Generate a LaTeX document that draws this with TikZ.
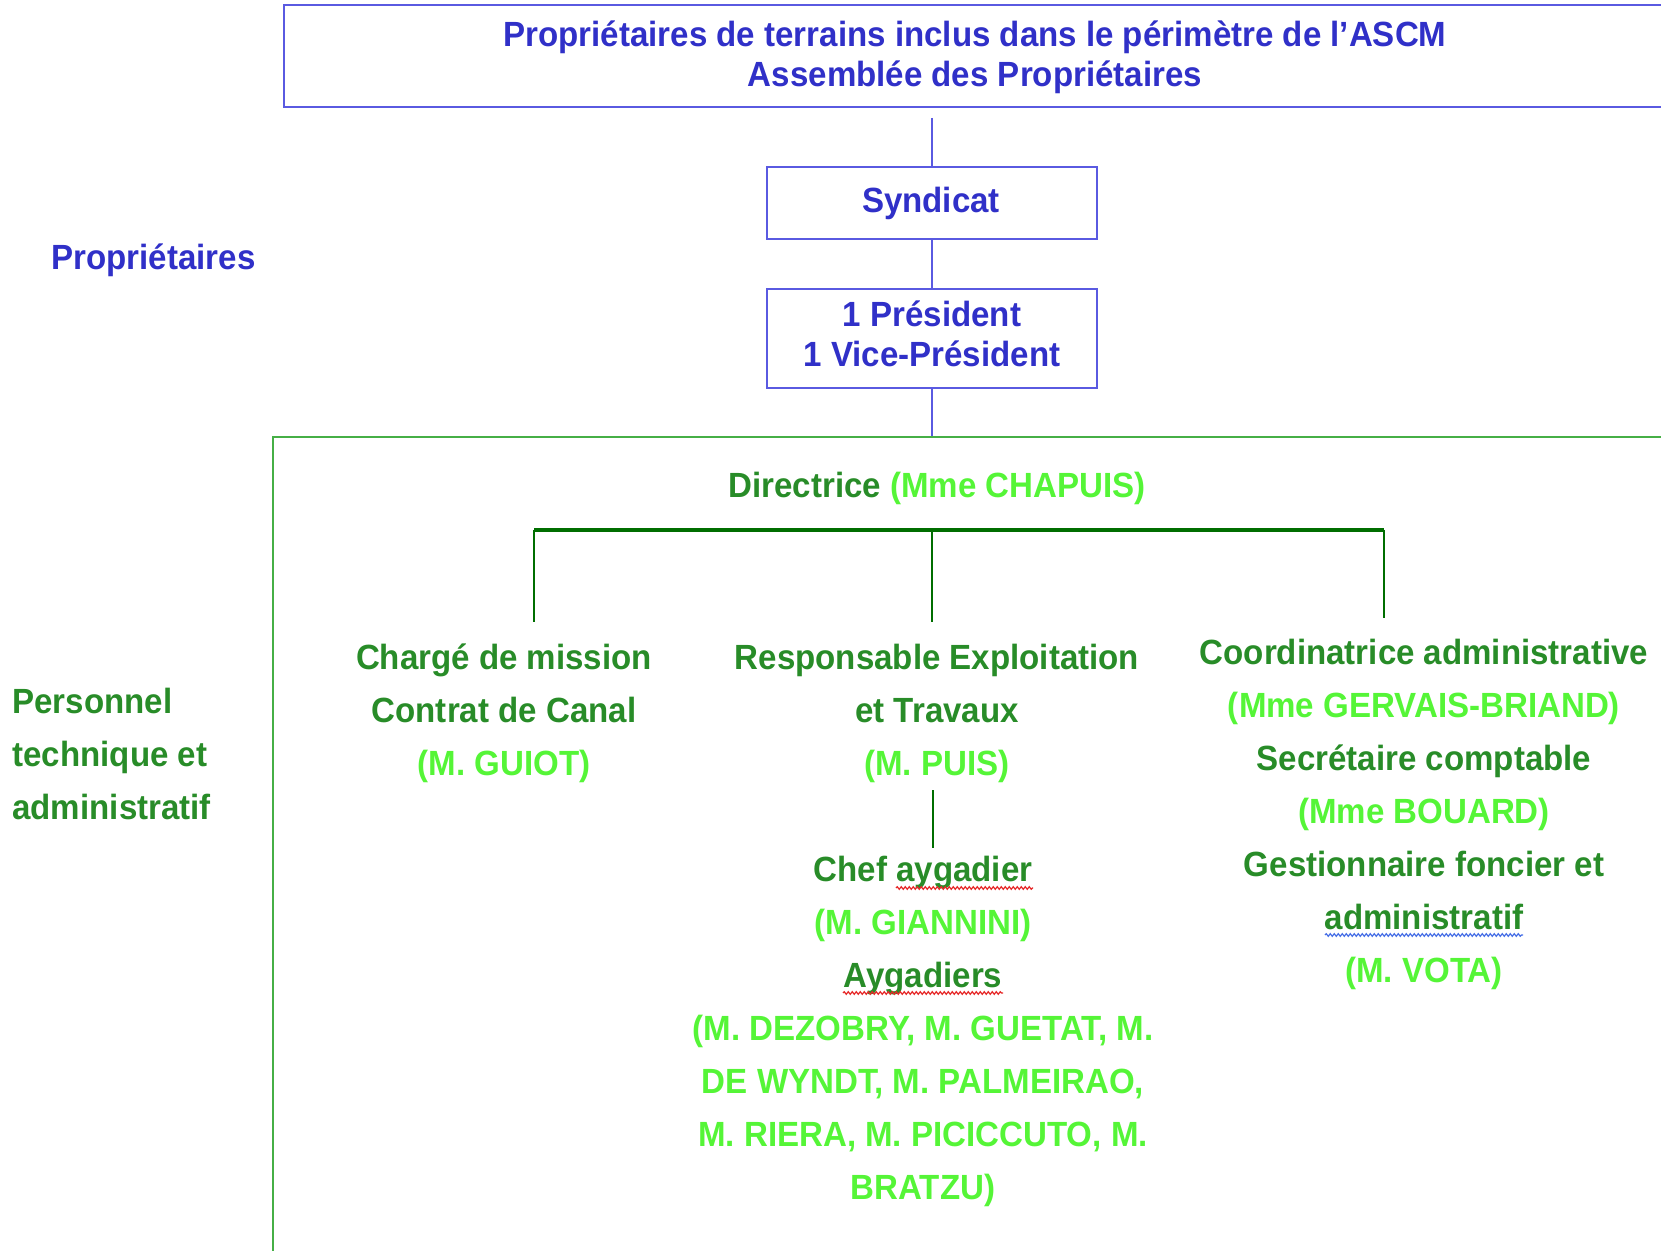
\documentclass[tikz,border=0pt]{standalone}
\usepackage{fontspec}
\setmainfont{Liberation Sans}[FakeStretch=0.945]
\usetikzlibrary{calc,decorations.pathmorphing}
\definecolor{bluetx}{RGB}{48,48,200}
\definecolor{blueln}{RGB}{90,90,225}
\definecolor{greenln}{RGB}{70,175,70}
\definecolor{dkgreen}{RGB}{40,140,40}
\definecolor{ltgreen}{RGB}{85,245,55}
\definecolor{bargreen}{RGB}{0,110,0}
\definecolor{spellred}{RGB}{230,40,40}
\definecolor{spellblue}{RGB}{70,110,230}
\newcommand{\dgstrut}{\rule{0pt}{14pt}}
\begin{document}
\begin{tikzpicture}[x=0.5pt,y=-0.5pt,
  bluebox/.style={draw=blueln, line width=1pt, inner sep=0pt},
  greenbox/.style={draw=greenln, line width=1pt, inner sep=0pt},
  bluelink/.style={draw=blueln, line width=0.8pt},
  barlink/.style={draw=bargreen, line width=1.7pt},
  droplink/.style={draw=bargreen, line width=1pt},
  txt/.style={inner sep=0pt, align=center, font=\fontsize{17.5}{26.5}\selectfont\bfseries},
  bluetxt/.style={txt, text=bluetx, font=\fontsize{17.5}{20}\selectfont\bfseries},
  greentxt/.style={txt, text=dkgreen},
  squiggle/.style={line width=0.6pt, decorate, decoration={snake, segment length=2pt, amplitude=0.65pt}}
]
\useasboundingbox (0,0) rectangle (1661,1251);
\clip (0,0) rectangle (1661,1251);

% Blue part
\node[bluebox, minimum width=708pt, minimum height=51pt] (assembly) at (992,56) {};
\node[bluetxt, anchor=north] (assemblytext) at (975,18) {\dgstrut Propriétaires de terrains inclus dans le périmètre de l’ASCM\\Assemblée des Propriétaires};
\node[bluebox, minimum width=165pt, minimum height=36pt] (synd) at (932,203) {};
\node[bluetxt, anchor=north] (syndtext) at (931,184) {\dgstrut Syndicat};
\node[bluebox, minimum width=165pt, minimum height=49.5pt] (pres) at (932,338.5) {};
\node[bluetxt, anchor=north] (prestext) at (932,298) {\dgstrut 1 Président\\1 Vice-Président};
\node[bluetxt, anchor=north west] (propl) at (51,241) {\dgstrut Propriétaires};

% Green part
\node[greenbox, minimum width=713.5pt, minimum height=431.5pt] (staff) at (986.5,868.5) {};
\node[greentxt, anchor=north west, align=left] (personnel) at (12,685) {\dgstrut Personnel\\technique et\\administratif};
\node[greentxt, anchor=north] (directrice) at (937,469) {\dgstrut Directrice \textcolor{ltgreen}{(Mme CHAPUIS)}};
\node[greentxt, anchor=north] (charge) at (504,641) {\dgstrut Chargé de mission\\Contrat de Canal\\\textcolor{ltgreen}{(M. GUIOT)}};
\node[greentxt, anchor=north] (resp) at (937,641) {\dgstrut Responsable Exploitation\\et Travaux\\\textcolor{ltgreen}{(M. PUIS)}};
\node[greentxt, anchor=north] (coord) at (1424,636) {\dgstrut Coordinatrice administrative\\\textcolor{ltgreen}{(Mme GERVAIS-BRIAND)}\\Secrétaire comptable\\\textcolor{ltgreen}{(Mme BOUARD)}\\Gestionnaire foncier et\\administratif\\\textcolor{ltgreen}{(M. VOTA)}};
\node[greentxt, anchor=north] (chef) at (923,853) {\dgstrut Chef aygadier\\\textcolor{ltgreen}{(M. GIANNINI)}\\Aygadiers\\\textcolor{ltgreen}{(M. DEZOBRY, M. GUETAT, M.}\\\textcolor{ltgreen}{DE WYNDT, M. PALMEIRAO,}\\\textcolor{ltgreen}{M. RIERA, M. PICICCUTO, M.}\\\textcolor{ltgreen}{BRATZU)}};

% Blue connectors
\draw[bluelink] ($(assembly.south -| synd.north)+(0,10)$) -- (synd.north);
\draw[bluelink] (synd.south) -- (pres.north);
\draw[bluelink] (pres.south) -- (pres.south |- staff.north);

% Green connectors
\coordinate (barL) at (534,530);
\coordinate (barM) at (932,530);
\coordinate (barR) at (1384,530);
\coordinate (dropL) at (534,622);
\coordinate (dropM) at (932,622);
\coordinate (dropR) at (1384,618);
\draw[barlink] (barL) -- (barR);
\draw[droplink] (barL) -- (dropL);
\draw[droplink] (barM) -- (dropM);
\draw[droplink] (barR) -- (dropR);
\draw[droplink, shorten <=3.5pt, shorten >=2.5pt] ([xshift=-2pt]resp.south) -- ([xshift=-2pt]resp.south |- chef.north);

% Spell-check underlines
\draw[squiggle, spellred] (896,888) -- (1033,888);
\draw[squiggle, spellred] (843,993) -- (1003,993);
\draw[squiggle, spellblue] (1325,935) -- (1523,935);
\end{tikzpicture}
\end{document}
